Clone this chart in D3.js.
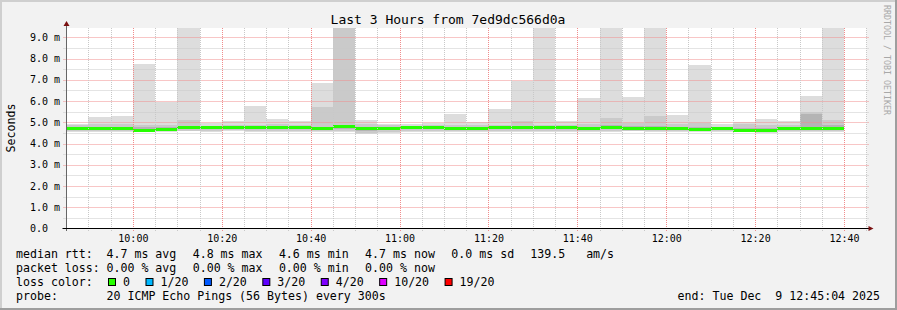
<!DOCTYPE html>
<html><head><meta charset="utf-8">
<script src="https://cdn.jsdelivr.net/npm/d3@7"></script>
<style>
html,body{margin:0;padding:0;background:#f0f0f0;}
svg text{font-family:"DejaVu Sans Mono",monospace;white-space:pre;}
</style></head>
<body><svg id="chart" width="897" height="310"></svg>
<script>
// ---- data (milliseconds) ----
const barStarts = ["09:45","09:50","09:55","10:00","10:05","10:10","10:15","10:20","10:25","10:30","10:35","10:40",
 "10:45","10:50","10:55","11:00","11:05","11:10","11:15","11:20","11:25","11:30","11:35","11:40",
 "11:45","11:50","11:55","12:00","12:05","12:10","12:15","12:20","12:25","12:30","12:35"];
const pingMax = [4.92,5.24,5.28,7.73,5.96,10.4,4.97,5.05,5.75,5.14,5.05,6.85,
 10.6,5.09,4.92,4.90,4.97,5.38,5.02,5.61,6.95,10.2,5.05,6.13,
 10.3,6.18,10.1,5.33,7.68,4.90,5.03,5.14,5.05,6.22,10.5];
const ping19 = [4.85,4.90,4.90,4.85,4.85,5.09,4.80,4.85,4.88,4.90,4.85,5.70,
 10.2,4.90,4.85,4.82,4.85,4.85,4.85,4.88,5.05,4.86,4.85,4.90,
 5.19,4.95,5.28,4.90,4.95,4.80,4.90,4.88,4.85,5.49,5.09];
const ping18 = [4.80,4.80,4.80,4.78,4.76,4.84,4.80,4.82,4.80,4.80,4.80,4.78,
 4.86,4.80,4.80,4.80,4.80,4.80,4.80,4.80,4.82,4.80,4.80,4.80,
 4.86,4.82,4.84,4.78,4.76,4.78,4.72,4.72,4.76,5.40,4.86];
const medianRtt = [4.72,4.72,4.72,4.63,4.67,4.74,4.77,4.77,4.74,4.74,4.74,4.69,
 4.78,4.72,4.72,4.74,4.74,4.72,4.72,4.74,4.74,4.74,4.74,4.71,
 4.77,4.72,4.72,4.70,4.67,4.72,4.63,4.63,4.69,4.69,4.69];
const ping3 = [4.64,4.64,4.64,4.58,4.61,4.66,4.68,4.68,4.66,4.66,4.66,4.62,
 4.66,4.60,4.62,4.66,4.66,4.64,4.64,4.66,4.66,4.66,4.66,4.64,
 4.68,4.65,4.64,4.62,4.61,4.64,4.58,4.57,4.62,4.62,4.62];
const ping2 = [4.60,4.60,4.60,4.57,4.59,4.61,4.61,4.62,4.60,4.60,4.60,4.59,
 4.57,4.50,4.55,4.60,4.60,4.60,4.60,4.60,4.60,4.60,4.60,4.60,
 4.61,4.61,4.60,4.58,4.59,4.60,4.55,4.54,4.59,4.59,4.59];
const pingMin = [4.56,4.56,4.56,4.55,4.56,4.57,4.56,4.58,4.56,4.56,4.56,4.56,
 4.53,4.45,4.50,4.56,4.56,4.56,4.56,4.56,4.56,4.56,4.56,4.56,
 4.56,4.58,4.56,4.55,4.56,4.56,4.52,4.50,4.56,4.56,4.56];
const yTicks = [0,1,2,3,4,5,6,7,8,9];
const xStart = "09:45:04", xEnd = "12:45:04";
const lossLabels = ["0","1/20","2/20","3/20","4/20","10/20","19/20"];
const lossColors = ["#26ff00","#00b8ff","#0059ff","#5e00ff","#7e00ff","#dd00ff","#ff0000"];
const titleText = "Last 3 Hours from 7ed9dc566d0a";
const statsRtt = ["4.7 ms avg","4.8 ms max","4.6 ms min","4.7 ms now","0.0 ms sd","139.5   am/s"];
const statsLoss = ["0.00 % avg","0.00 % max","0.00 % min","0.00 % now"];
const probeText = "20 ICMP Echo Pings (56 Bytes) every 300s";
const endText = "end: Tue Dec  9 12:45:04 2025";

// ---- layout ----
const W = 897, H = 310;
const L = 66.5, R = 866.5, T = 28, B = 228;
const svg = d3.select("#chart");
const pt = d3.timeParse("%H:%M:%S"), pm = d3.timeParse("%H:%M");

// background & frame
svg.append("rect").attr("width",W).attr("height",H).attr("fill","#f2f2f2");
svg.append("rect").attr("x",0).attr("y",0).attr("width",W).attr("height",2).attr("fill","#cfcfcf");
svg.append("rect").attr("x",0).attr("y",0).attr("width",2).attr("height",H).attr("fill","#cfcfcf");
svg.append("rect").attr("x",0).attr("y",H-2).attr("width",W).attr("height",2).attr("fill","#9e9e9e");
svg.append("rect").attr("x",W-2).attr("y",0).attr("width",2).attr("height",H).attr("fill","#9e9e9e");

const x = d3.scaleTime().domain([pt(xStart), pt(xEnd)]).range([L, R]);
const y = d3.scaleLinear().domain([0, 200/21.25]).range([B+0.5, T+0.5]);

svg.append("rect").attr("x",L).attr("y",T).attr("width",R-L).attr("height",B-T).attr("fill","#ffffff");
svg.append("clipPath").attr("id","clip").append("rect").attr("x",L).attr("y",T).attr("width",R-L).attr("height",B-T);

const plot = svg.append("g").attr("clip-path","url(#clip)").attr("shape-rendering","crispEdges");
const bars = barStarts.map((s,i)=>({x0:x(pm(s)), x1:x(d3.timeMinute.offset(pm(s),5)), i}));
const bands = [[pingMin,pingMax,"#dddddd"],[ping2,ping19,"#cacaca"],[ping3,ping18,"#b4b4b4"]];
bands.forEach(([lo,hi,col])=>{
  plot.append("g").selectAll("rect").data(bars).join("rect")
    .attr("x",d=>d.x0).attr("width",d=>d.x1-d.x0)
    .attr("y",d=>y(hi[d.i])).attr("height",d=>Math.max(0,y(lo[d.i])-y(hi[d.i])))
    .attr("fill",col);
});
plot.append("g").selectAll("rect").data(bars).join("rect")
  .attr("x",d=>d.x0).attr("width",d=>d.x1-d.x0)
  .attr("y",d=>Math.round(y(medianRtt[d.i])-1.5)).attr("height",3)
  .attr("fill",lossColors[0]);

// grid
const grid = svg.append("g").attr("fill","none").attr("stroke-dasharray","1,1");
const yMinor = d3.range(0.5, 9.5, 1);
grid.selectAll(".hm").data(yMinor).join("line")
  .attr("x1",L-3).attr("x2",R+3).attr("y1",d=>Math.round(y(d))+0.5).attr("y2",d=>Math.round(y(d))+0.5)
  .attr("stroke","#c8c8c8");
grid.selectAll(".hM").data(yTicks.filter(d=>d>0)).join("line")
  .attr("x1",L-3).attr("x2",R+3).attr("y1",d=>Math.round(y(d))+0.5).attr("y2",d=>Math.round(y(d))+0.5)
  .attr("stroke","#f08c8c");
const xMinor = x.ticks(d3.timeMinute.every(5)).filter(d=>d.getMinutes()%20!==0);
const xMajor = x.ticks(d3.timeMinute.every(20));
grid.selectAll(".vm").data(xMinor).join("line")
  .attr("x1",d=>Math.round(x(d))+0.5).attr("x2",d=>Math.round(x(d))+0.5).attr("y1",T).attr("y2",B+3)
  .attr("stroke","#c8c8c8");
grid.selectAll(".vM").data(xMajor).join("line")
  .attr("x1",d=>Math.round(x(d))+0.5).attr("x2",d=>Math.round(x(d))+0.5).attr("y1",T).attr("y2",B+3)
  .attr("stroke","#f08c8c");

// axes lines & arrows
svg.append("line").attr("x1",L).attr("x2",L).attr("y1",B+3).attr("y2",T-4).attr("stroke","#666").attr("stroke-width",1);
svg.append("line").attr("x1",L-4).attr("x2",R+4).attr("y1",B+0.5).attr("y2",B+0.5).attr("stroke","#000").attr("stroke-width",1);
svg.append("path").attr("d",`M${L-3},${T-2}L${L},${T-7}L${L+3},${T-2}Z`).attr("fill","#7a1010");
svg.append("path").attr("d",`M${R+2},${B-2}L${R+7},${B+0.5}L${R+2},${B+3}Z`).attr("fill","#7a1010");

// tick labels
const yAxis = d3.axisLeft(y).tickValues(yTicks).tickSize(0).tickPadding(6.5)
  .tickFormat(d=> d===0 ? "0.0  " : d.toFixed(1)+" m");
const gy = svg.append("g").attr("transform",`translate(${L},0)`).call(yAxis);
gy.select(".domain").remove();
gy.selectAll("text").attr("font-family","DejaVu Sans Mono").attr("font-size","10px").attr("fill","#000");
const xAxis = d3.axisBottom(x).tickValues(xMajor).tickSize(0).tickPadding(6).tickFormat(d3.timeFormat("%H:%M"));
const gx = svg.append("g").attr("transform",`translate(0,${B+0.5})`).call(xAxis);
gx.select(".domain").remove();
gx.selectAll("text").attr("font-family","DejaVu Sans Mono").attr("font-size","10px").attr("fill","#000");

// title
svg.append("text").attr("x",448).attr("y",24).attr("text-anchor","middle").attr("font-size","13px").attr("fill","#000").text(titleText);
// y label
svg.append("text").attr("transform",`translate(14.5,${(T+B)/2}) rotate(-90)`).attr("text-anchor","middle")
  .attr("font-size","11.6px").attr("fill","#000").text("Seconds");
// watermark
svg.append("text").attr("transform","translate(884,5) rotate(90)").attr("font-size","8.3px").attr("fill","#a8a8a8")
  .text("RRDTOOL / TOBI OETIKER");

// legend
const lg = svg.append("g").attr("font-size","11.6px").attr("fill","#000");
const rows = [258, 272, 286, 300];
const colX = 107, colStep = 86.2;
lg.append("text").attr("x",16).attr("y",rows[0]).text("median rtt:");
statsRtt.forEach((s,i)=>{
  const xx = i<5 ? colX+i*colStep : colX+4*colStep+9*7+16;
  lg.append("text").attr("x",xx-0.5).attr("y",rows[0]).text(s);
});
lg.append("text").attr("x",16).attr("y",rows[1]).text("packet loss:");
statsLoss.forEach((s,i)=>lg.append("text").attr("x",colX+i*colStep-0.5).attr("y",rows[1]).text(s));
lg.append("text").attr("x",16).attr("y",rows[2]).text("loss color:");
let bx = 108;
lossLabels.forEach((lab,i)=>{
  lg.append("rect").attr("x",bx+0.5).attr("y",278.5).attr("width",7).attr("height",7)
    .attr("fill",lossColors[i]).attr("stroke","#000").attr("stroke-width",1);
  const t = lg.append("text").attr("x",bx+15).attr("y",rows[2]).text(lab);
  bx = bx + 15 + t.node().getComputedTextLength() + 15.5;
});
lg.append("text").attr("x",16).attr("y",rows[3]).text("probe:");
lg.append("text").attr("x",colX-0.5).attr("y",rows[3]).text(probeText);
lg.append("text").attr("x",880).attr("y",rows[3]).attr("text-anchor","end").text(endText);
</script></body></html>
